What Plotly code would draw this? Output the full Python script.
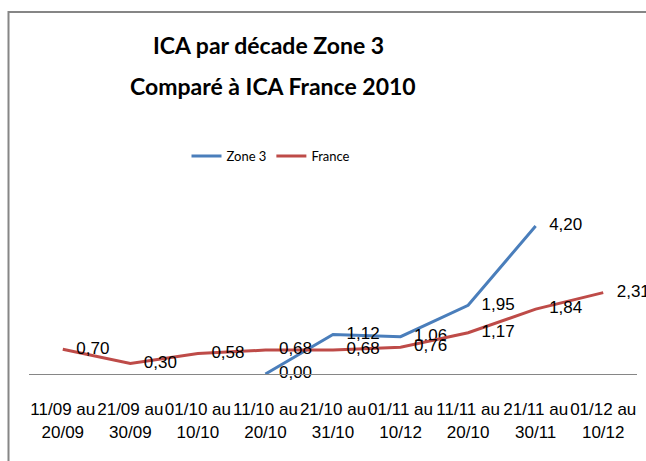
import plotly.graph_objects as go

categories = ["11/09 au<br>20/09", "21/09 au<br>30/09", "01/10 au<br>10/10",
              "11/10 au<br>20/10", "21/10 au<br>31/10", "01/11 au<br>10/12",
              "11/11 au<br>20/10", "21/11 au<br>30/11", "01/12 au<br>10/12"]
zone3 = [None, None, None, 0.00, 1.12, 1.06, 1.95, 4.20, None]
france = [0.70, 0.30, 0.58, 0.68, 0.68, 0.76, 1.17, 1.84, 2.31]

W, H = 646, 461
BLUE = "#4A7EBB"
RED = "#BE4B48"
GRAY = "#868686"
TITLEF = "Lato, Liberation Sans, sans-serif"
REG = "Liberation Sans, Arial, sans-serif"

fig = go.Figure()
for name, vals, col in [("Zone 3", zone3, BLUE), ("France", france, RED)]:
    fig.add_trace(go.Scatter(
        x=categories, y=vals, name=name, mode="lines+markers+text",
        line=dict(color=col, width=3),
        marker=dict(size=20, color="rgba(0,0,0,0)"),
        texttemplate="%{y:.2f}", textposition="middle right",
        textfont=dict(family=REG, size=17, color="#000000"),
        connectgaps=False, hoverinfo="skip", cliponaxis=False,
    ))

def px_x(p):
    return p / W

def px_y(p):
    return (H - p) / H

y_bottom, y_top = 374, 190
scale = 35.24
fig.update_layout(
    width=W, height=H, autosize=False,
    margin=dict(l=0, r=0, t=0, b=0),
    paper_bgcolor="white", plot_bgcolor="white",
    separators=", ",
    showlegend=True,
    legend=dict(orientation="h", x=px_x(271), xanchor="center",
                y=px_y(156), yanchor="middle",
                font=dict(family=TITLEF, size=13, color="#000000"),
                itemwidth=30, tracegroupgap=0, bgcolor="rgba(0,0,0,0)"),
    xaxis=dict(domain=[px_x(29), px_x(637)], range=[-0.5, 8.5],
               showline=True, linecolor=GRAY, linewidth=1,
               showgrid=False, zeroline=False, ticks="", tickangle=0,
               tickfont=dict(family=REG, size=17, color="#000000"),
               ticklabelstandoff=20, fixedrange=True),
    yaxis=dict(domain=[px_y(y_bottom), px_y(y_top)],
               range=[0, (y_bottom - y_top) / scale],
               visible=False, fixedrange=True),
    shapes=[dict(type="rect", xref="paper", yref="paper",
                 x0=px_x(8.5), x1=px_x(700), y0=px_y(520), y1=px_y(12),
                 line=dict(color=GRAY, width=2), fillcolor="rgba(0,0,0,0)", layer="below")],
    annotations=[
        dict(text="<b>ICA par décade Zone 3</b>", xref="paper", yref="paper",
             x=px_x(268), y=px_y(45), xanchor="center", yanchor="middle",
             showarrow=False, font=dict(family=TITLEF, size=23, color="#000000")),
        dict(text="<b>Comparé à ICA France 2010</b>", xref="paper", yref="paper",
             x=px_x(273), y=px_y(86), xanchor="center", yanchor="middle",
             showarrow=False, font=dict(family=TITLEF, size=23, color="#000000")),
    ],
)

fig.write_html("out.html", config={"displayModeBar": False},
               post_script="document.body.style.margin='0';document.body.style.overflow='hidden';")
